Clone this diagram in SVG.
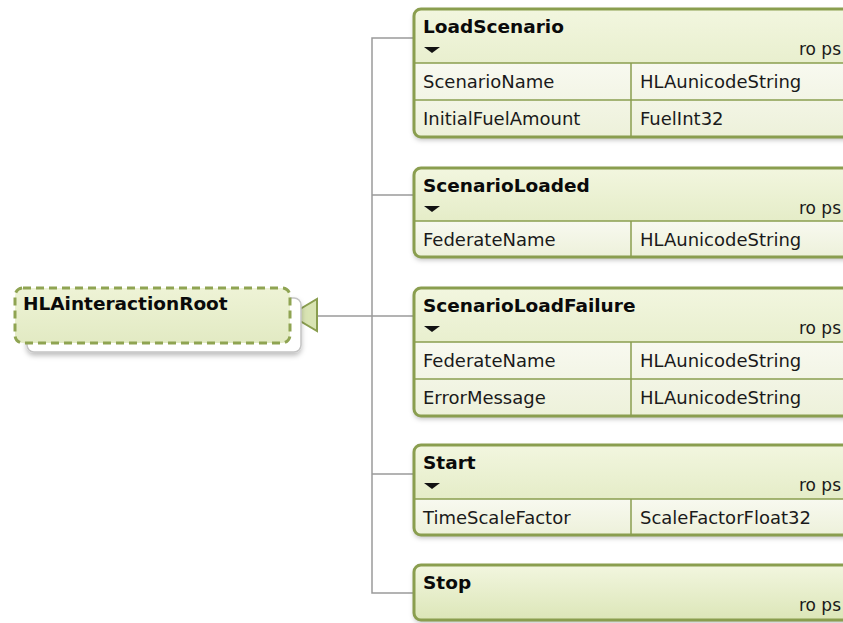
<svg xmlns="http://www.w3.org/2000/svg" width="843" height="623" viewBox="0 0 843 623">
<defs>
<linearGradient id="hg" x1="0" y1="0" x2="0" y2="1">
<stop offset="0" stop-color="#f2f6df"/>
<stop offset="1" stop-color="#dce6b8"/>
</linearGradient>
<linearGradient id="rg" x1="0" y1="0" x2="0" y2="1">
<stop offset="0" stop-color="#f8f9f0"/>
<stop offset="1" stop-color="#edf1da"/>
</linearGradient>
<linearGradient id="rootg" x1="0" y1="0" x2="0" y2="1">
<stop offset="0" stop-color="#eef3d6"/>
<stop offset="1" stop-color="#e2eac3"/>
</linearGradient>
<filter id="sh" x="-10%" y="-20%" width="130%" height="150%">
<feDropShadow dx="0" dy="3" stdDeviation="2.5" flood-color="#000" flood-opacity="0.25"/>
</filter>
</defs>
<style>
.hdr{fill:url(#hg);}
.row{fill:url(#rg);}
.bd{fill:none;stroke:#8a9e4f;stroke-width:3;}
.ln{stroke:#8a9e4f;stroke-width:1.5;fill:none;}
.con{stroke:#9a9a9a;stroke-width:1.5;fill:none;}
.title{font-family:"DejaVu Sans",sans-serif;font-weight:bold;font-size:18.5px;fill:#0a0a0a;}
.txt{font-family:"DejaVu Sans",sans-serif;font-size:18px;fill:#1a1a1a;}
.ro{font-family:"DejaVu Sans",sans-serif;font-size:17px;fill:#1a1a1a;text-anchor:end;}
.tri{fill:#111;}
</style>
<rect width="843" height="623" fill="#ffffff"/>

<g id="connectors">
<polyline class="con" points="414,38 372,38 372,593 414,593"/>
<line class="con" x1="372" y1="195" x2="414" y2="195"/>
<line class="con" x1="372" y1="474" x2="414" y2="474"/>
<line class="con" x1="317" y1="316" x2="414" y2="316"/>
<polygon points="290,315 317,299 317,331" fill="#d9e4b3" stroke="#8a9e4f" stroke-width="2"/>
</g>

<g id="HLAinteractionRoot">
<rect x="27" y="298" width="274" height="54" rx="7" fill="#ffffff" stroke="#c4c4c4" stroke-width="1.5" filter="url(#sh)"/>
<rect x="15" y="288" width="275" height="55" rx="8" fill="url(#rootg)" stroke="#8fa452" stroke-width="3" stroke-dasharray="8 5"/>
<text class="title" x="23" y="310">HLAinteractionRoot</text>
</g>

<g id="LoadScenario">
<rect class="hdr" x="414" y="9" width="480" height="128" rx="7" filter="url(#sh)"/>
<path class="row" d="M414,63 H894 V137 H421 A7,7 0 0 1 414,130 Z"/>
<line class="ln" x1="414" y1="63" x2="894" y2="63"/>
<line class="ln" x1="414" y1="100" x2="894" y2="100"/>
<line class="ln" x1="631" y1="63" x2="631" y2="137"/>
<rect class="bd" x="414" y="9" width="480" height="128" rx="7"/>
<text class="title" x="423" y="33">LoadScenario</text>
<polygon class="tri" points="424,47 440,47 432,53"/>
<text class="ro" x="841" y="55">ro ps</text>
<text class="txt" x="423" y="88">ScenarioName</text>
<text class="txt" x="640" y="88">HLAunicodeString</text>
<text class="txt" x="423" y="125">InitialFuelAmount</text>
<text class="txt" x="640" y="125">FuelInt32</text>
</g>

<g id="ScenarioLoaded">
<rect class="hdr" x="414" y="168" width="480" height="89" rx="7" filter="url(#sh)"/>
<path class="row" d="M414,221 H894 V257 H421 A7,7 0 0 1 414,250 Z"/>
<line class="ln" x1="414" y1="221" x2="894" y2="221"/>
<line class="ln" x1="631" y1="221" x2="631" y2="257"/>
<rect class="bd" x="414" y="168" width="480" height="89" rx="7"/>
<text class="title" x="423" y="192">ScenarioLoaded</text>
<polygon class="tri" points="424,206 440,206 432,212"/>
<text class="ro" x="841" y="214">ro ps</text>
<text class="txt" x="423" y="246">FederateName</text>
<text class="txt" x="640" y="246">HLAunicodeString</text>
</g>

<g id="ScenarioLoadFailure">
<rect class="hdr" x="414" y="288" width="480" height="128" rx="7" filter="url(#sh)"/>
<path class="row" d="M414,342 H894 V416 H421 A7,7 0 0 1 414,409 Z"/>
<line class="ln" x1="414" y1="342" x2="894" y2="342"/>
<line class="ln" x1="414" y1="379" x2="894" y2="379"/>
<line class="ln" x1="631" y1="342" x2="631" y2="416"/>
<rect class="bd" x="414" y="288" width="480" height="128" rx="7"/>
<text class="title" x="423" y="312">ScenarioLoadFailure</text>
<polygon class="tri" points="424,326 440,326 432,332"/>
<text class="ro" x="841" y="334">ro ps</text>
<text class="txt" x="423" y="367">FederateName</text>
<text class="txt" x="640" y="367">HLAunicodeString</text>
<text class="txt" x="423" y="404">ErrorMessage</text>
<text class="txt" x="640" y="404">HLAunicodeString</text>
</g>

<g id="Start">
<rect class="hdr" x="414" y="445" width="480" height="90" rx="7" filter="url(#sh)"/>
<path class="row" d="M414,499 H894 V535 H421 A7,7 0 0 1 414,528 Z"/>
<line class="ln" x1="414" y1="499" x2="894" y2="499"/>
<line class="ln" x1="631" y1="499" x2="631" y2="535"/>
<rect class="bd" x="414" y="445" width="480" height="90" rx="7"/>
<text class="title" x="423" y="469">Start</text>
<polygon class="tri" points="424,483 440,483 432,489"/>
<text class="ro" x="841" y="491">ro ps</text>
<text class="txt" x="423" y="524">TimeScaleFactor</text>
<text class="txt" x="640" y="524">ScaleFactorFloat32</text>
</g>

<g id="Stop">
<rect class="hdr" x="414" y="565" width="480" height="55" rx="7" filter="url(#sh)"/>
<rect class="bd" x="414" y="565" width="480" height="55" rx="7"/>
<text class="title" x="423" y="589">Stop</text>
<text class="ro" x="841" y="611">ro ps</text>
</g>
</svg>
